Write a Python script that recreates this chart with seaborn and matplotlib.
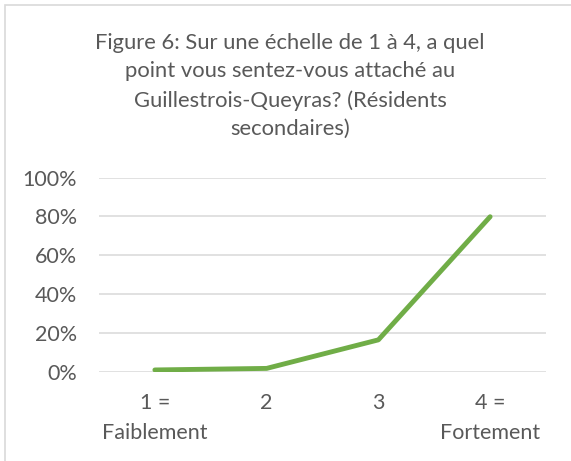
import numpy as np
import pandas as pd
import seaborn as sns
import matplotlib.pyplot as plt
from matplotlib.patches import Rectangle

# Data
categories = ["1 =\nFaiblement", "2", "3", "4 =\nFortement"]
positions = [1, 2, 3, 4]
shares = [0.009, 0.017, 0.164, 0.798]
yticks = [0, 0.2, 0.4, 0.6, 0.8, 1.0]
ytick_labels = ["0%", "20%", "40%", "60%", "80%", "100%"]
title = "Figure 6: Sur une échelle de 1 à 4, a quel\npoint vous sentez-vous attaché au\nGuillestrois-Queyras? (Résidents\nsecondaires)"

df = pd.DataFrame({"pos": positions, "share": shares})

sns.set_theme(style="white")
plt.rcParams['font.family'] = ['Lato', 'DejaVu Sans']

text_color = "#595959"
grid_color = "#D9D9D9"
green = "#70AD47"

fig = plt.figure(figsize=(5.71, 4.61), dpi=100)
fig.patch.set_facecolor("white")

# chart frame (light gray border)
fig.add_artist(Rectangle((5 / 571, -0.05), 1.1, 1 - 5 / 461 + 0.05, transform=fig.transFigure,
                         fill=False, edgecolor=grid_color, linewidth=1.2))

ax = fig.add_axes([99 / 571, 1 - 371.7 / 461, 447 / 571, 194.2 / 461])

for y in yticks:
    ax.axhline(y, color=grid_color, linewidth=1.1, zorder=0)

sns.lineplot(data=df, x="pos", y="share", ax=ax, color=green, linewidth=3.5,
             solid_capstyle="round", solid_joinstyle="round")

ax.set_xlim(0.5, 4.5)
ax.set_ylim(0, 1.0)
ax.set_xticks(positions)
ax.set_xticklabels(categories, fontsize=15.5, color=text_color, linespacing=1.6)
ax.set_yticks(yticks)
ax.set_yticklabels(ytick_labels, fontsize=15.5, color=text_color)
ax.tick_params(axis="x", length=0, pad=15.5)
ax.tick_params(axis="y", length=0, pad=16)
ax.set_xlabel("")
ax.set_ylabel("")
for s in ax.spines.values():
    s.set_visible(False)
ax.set_facecolor("none")

fig.text(290 / 571, 1 - 33 / 461, title, ha="center", va="top", fontsize=15.8,
         color=text_color, linespacing=1.52)

fig.savefig("out.png", dpi=100)
